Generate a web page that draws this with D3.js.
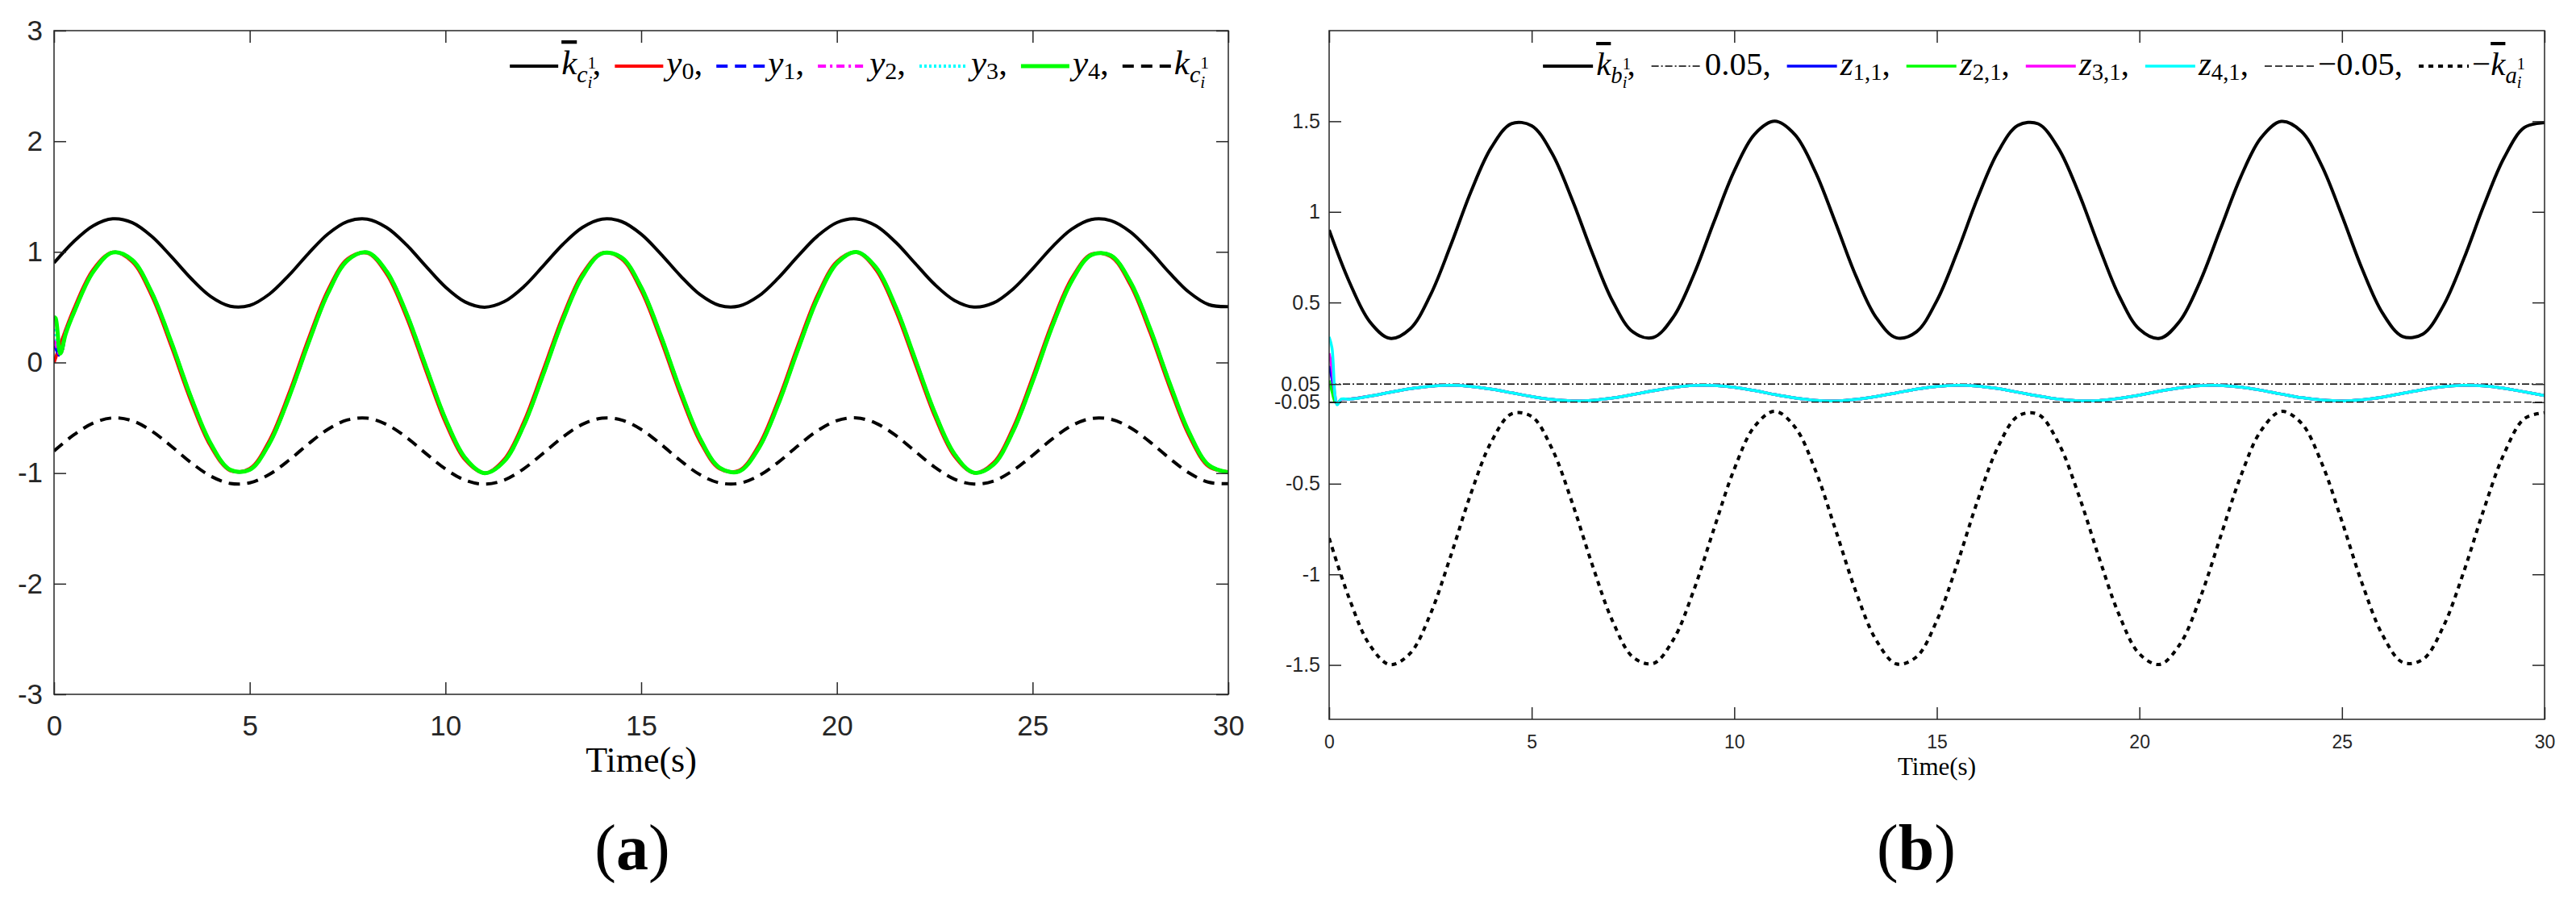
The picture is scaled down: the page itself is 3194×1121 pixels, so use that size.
<!DOCTYPE html>
<html>
<head>
<meta charset="utf-8">
<script src="https://cdn.jsdelivr.net/npm/d3@7"></script>
<style>
body { margin: 0; background: #fff; }
text { font-family: "Liberation Sans", Arial, sans-serif; fill: #262626; }
text.math { font-family: "Liberation Serif", "Times New Roman", serif; fill: #000; }
</style>
</head>
<body>
<svg id="fig" width="3194" height="1121"></svg>
<script>
// sample times (s)
const tGrid = [0,0.5,1,1.5,2,2.5,3,3.5,4,4.5,5,5.5,6,6.5,7,7.5,8,8.5,9,9.5,10,10.5,11,11.5,12,12.5,13,13.5,14,14.5,15,15.5,16,16.5,17,17.5,18,18.5,19,19.5,20,20.5,21,21.5,22,22.5,23,23.5,24,24.5,25,25.5,26,26.5,27,27.5,28,28.5,29,29.5,30];

// ---- panel (a) values ----
const kBarC = [.900,1.092,1.236,1.299,1.264,1.139,.956,.760,.597,.509,.516,.618,.788,.986,1.163,1.275,1.296,1.219,1.065,.870,.682,.548,.500,.550,.685,.874,1.068,1.221,1.296,1.274,1.160,.982,.785,.615,.516,.510,.600,.763,.960,1.142,1.265,1.298,1.235,1.088,.896,.705,.562,.501,.538,.664,.847,1.044,1.205,1.292,1.282,1.180,1.008,.810,.634,.523,.505];
const y0 = [0,.479,.841,.997,.909,.598,.141,-.351,-.757,-.978,-.959,-.706,-.279,.215,.657,.938,.989,.798,.412,-.075,-.544,-.880,-1.000,-.875,-.537,-.066,.420,.803,.991,.935,.650,.206,-.288,-.712,-.961,-.976,-.751,-.342,.150,.606,.913,.996,.837,.471,-.009,-.487,-.846,-.998,-.906,-.591,-.132,.360,.763,.980,.956,.699,.271,-.224,-.664,-.942,-.988];
const kC = [-.800,-.656,-.548,-.501,-.527,-.621,-.758,-.905,-1.027,-1.093,-1.088,-1.012,-.884,-.736,-.603,-.519,-.503,-.561,-.676,-.823,-.963,-1.064,-1.100,-1.063,-.961,-.820,-.674,-.559,-.503,-.520,-.605,-.738,-.886,-1.014,-1.088,-1.093,-1.025,-.903,-.755,-.618,-.526,-.501,-.549,-.659,-.803,-.946,-1.054,-1.099,-1.072,-.977,-.840,-.692,-.571,-.506,-.513,-.590,-.719,-.867,-.999,-1.083,-1.096];
// followers after the start-up (t = 0.5 ... 30), they sit on y0 with a small lag
const yFollow = [.444,.819,.994,.926,.630,.181,-.314,-.731,-.970,-.970,-.734,-.317,.176,.627,.924,.995,.822,.448,-.035,-.510,-.861,-1.000,-.894,-.571,-.106,.384,.779,.986,.949,.680,.245,-.250,-.684,-.950,-.985,-.777,-.380,.110,.574,.897,.999,.859,.506,.031,-.452,-.825,-.996,-.923,-.623,-.172,.323,.737,.972,.968,.728,.309,-.185,-.634,-.928,-.994];
const tStartA = [0,0.04,0.16,0.3];
const y1Start = [0.15,0.13,0.06,0.27];
const y2Start = [0.20,0.17,0.07,0.27];
const y3Start = [0.30,0.26,0.09,0.27];
const y4Start = [0.41,0.40,0.08,0.26];

// ---- panel (b) values ----
const kBarB = [.900,.613,.395,.302,.355,.541,.815,1.111,1.354,1.487,1.475,1.324,1.067,.771,.506,.337,.307,.421,.653,.945,1.226,1.428,1.500,1.425,1.222,.940,.648,.418,.305,.339,.510,.776,1.073,1.327,1.477,1.486,1.351,1.105,.810,.536,.352,.302,.398,.617,.905,1.192,1.408,1.499,1.444,1.255,.979,.684,.442,.312,.326,.481,.737,1.034,1.298,1.465,1.493];
const kBarA = [-.800,-1.135,-1.389,-1.498,-1.436,-1.219,-.899,-.554,-.270,-.115,-.129,-.306,-.605,-.951,-1.260,-1.457,-1.492,-1.359,-1.088,-.748,-.419,-.184,-.100,-.188,-.424,-.754,-1.094,-1.362,-1.494,-1.455,-1.255,-.944,-.598,-.302,-.127,-.117,-.274,-.561,-.905,-1.224,-1.439,-1.497,-1.386,-1.130,-.794,-.459,-.208,-.101,-.166,-.386,-.708,-1.052,-1.334,-1.486,-1.469,-1.289,-.990,-.643,-.335,-.141,-.108];
const zFollow = [-.034,-.017,.004,.024,.038,.043,.037,.022,.002,-.019,-.035,-.043,-.040,-.027,-.008,.013,.031,.042,.042,.032,.014,-.008,-.027,-.040,-.043,-.035,-.019,.001,.022,.037,.043,.039,.025,.005,-.016,-.033,-.042,-.041,-.029,-.011,.011,.029,.041,.042,.033,.016,-.005,-.025,-.038,-.043,-.037,-.022,-.001,.019,.035,.043,.040,.027,.007,-.014];
const tStartB = [0,0.07,0.15,0.2,0.3];
const z1Start = [0.15,0.08,-0.04,-0.06,-0.035];
const z2Start = [0.07,0.01,-0.05,-0.055,-0.035];
const z3Start = [0.22,0.14,-0.02,-0.06,-0.035];
const z4Start = [0.31,0.25,-0.02,-0.065,-0.033];
const bandT = [0, 30];
const bandUp = [0.05, 0.05];
const bandLow = [-0.05, -0.05];

// ticks
const xTicks = [0,5,10,15,20,25,30];
const yTicksA = [-3,-2,-1,0,1,2,3];
const yTicksB = [-1.5,-1,-0.5,-0.05,0.05,0.5,1,1.5];

const svg = d3.select("#fig");
const axisColor = "#262626";

const tA = tStartA.concat(tGrid.slice(1));
const tB = tStartB.concat(tGrid.slice(1));

function addMath(text, parts, size) {
    let cur = 0, prev = null;
    parts.forEach(p => {
        const sc = p.sc || 1, off = p.off || 0;
        const ts = text.append("tspan").text(p.s)
            .attr("font-size", size * sc)
            .attr("font-style", p.it ? "italic" : "normal")
            .attr("dy", (off - cur) * size);
        if (p.over) ts.attr("text-decoration", "overline");
        if (p.stack && prev) ts.attr("dx", -prev.node().getComputedTextLength());
        cur = off;
        prev = ts;
    });
}

function panel(cfg) {
    const x = d3.scaleLinear().domain([0, 30]).range([cfg.left, cfg.right]);
    const y = d3.scaleLinear().domain(cfg.yDomain).range([cfg.bottom, cfg.top]);
    const g = svg.append("g");

    g.append("clipPath").attr("id", cfg.id)
        .append("rect")
        .attr("x", cfg.left).attr("y", cfg.top)
        .attr("width", cfg.right - cfg.left).attr("height", cfg.bottom - cfg.top);

    const line = d3.line()
        .x(d => x(d[0]))
        .y(d => y(d[1]))
        .curve(d3.curveCatmullRom.alpha(0.5));

    const plot = g.append("g").attr("clip-path", `url(#${cfg.id})`);
    cfg.series.forEach(s => {
        plot.append("path")
            .datum(s.t.map((t, i) => [t, s.v[i]]))
            .attr("d", line)
            .attr("fill", "none")
            .attr("stroke", s.color)
            .attr("stroke-width", s.lw)
            .attr("stroke-dasharray", s.dash || null)
            .attr("stroke-linejoin", "round");
    });

    // box + inward ticks on all sides
    g.append("rect")
        .attr("x", cfg.left).attr("y", cfg.top)
        .attr("width", cfg.right - cfg.left).attr("height", cfg.bottom - cfg.top)
        .attr("fill", "none").attr("stroke", axisColor).attr("stroke-width", 1.5);

    const style = a => {
        a.select(".domain").remove();
        a.selectAll("line").attr("stroke", axisColor).attr("stroke-width", 1.5);
    };

    g.append("g").attr("transform", `translate(0,${cfg.bottom})`)
        .call(d3.axisBottom(x).tickValues(xTicks).tickSize(-15).tickPadding(cfg.xPad).tickFormat(d => String(d)))
        .call(style)
        .selectAll("text").attr("font-size", cfg.xFont).attr("fill", axisColor)
        .attr("font-family", '"Liberation Sans", Arial, sans-serif');
    g.append("g").attr("transform", `translate(0,${cfg.top})`)
        .call(d3.axisTop(x).tickValues(xTicks).tickSize(-15).tickFormat(""))
        .call(style);
    g.append("g").attr("transform", `translate(${cfg.left},0)`)
        .call(d3.axisLeft(y).tickValues(cfg.yTicks).tickSize(-15).tickPadding(cfg.yPad).tickFormat(d => String(d)))
        .call(style)
        .selectAll("text").attr("font-size", cfg.yFont).attr("fill", axisColor)
        .attr("font-family", '"Liberation Sans", Arial, sans-serif');
    g.append("g").attr("transform", `translate(${cfg.right},0)`)
        .call(d3.axisRight(y).tickValues(cfg.yTicks).tickSize(-15).tickFormat(""))
        .call(style);

    // x label
    g.append("text").attr("class", "math")
        .attr("x", (cfg.left + cfg.right) / 2).attr("y", cfg.xLabelY)
        .attr("text-anchor", "middle").attr("font-size", cfg.xLabelSize)
        .text("Time(s)");

    // caption
    const cap = g.append("text").attr("class", "math")
        .attr("x", cfg.capX).attr("y", 1078)
        .attr("text-anchor", "middle").attr("font-size", 80);
    cap.append("tspan").text("(");
    cap.append("tspan").attr("font-weight", "bold").text(cfg.cap);
    cap.append("tspan").text(")");

    // legend, laid out left to right then pushed against the right edge
    const lg = g.append("g");
    let lx = 0;
    cfg.legend.forEach((it, i) => {
        const s = cfg.series[i];
        lg.append("line")
            .attr("x1", lx).attr("x2", lx + cfg.legLen).attr("y1", 0).attr("y2", 0)
            .attr("stroke", s.color).attr("stroke-width", s.legLw || s.lw)
            .attr("stroke-dasharray", s.dash || null);
        lx += cfg.legLen + 4;
        const t = lg.append("text").attr("class", "math").attr("x", lx).attr("y", cfg.legBase);
        addMath(t, it, cfg.legSize);
        const bb = t.node().getBBox();
        lx = bb.x + bb.width + cfg.legGap;
    });
    lg.attr("transform", `translate(${cfg.right - 24 - (lx - cfg.legGap)},${cfg.legY})`);
}

panel({
    id: "clipA", left: 67, right: 1523, top: 38, bottom: 861,
    yDomain: [-3, 3], yTicks: yTicksA,
    xPad: 26, yPad: 14, xFont: 35, yFont: 35,
    xLabelY: 957, xLabelSize: 44, capX: 784, cap: "a",
    legLen: 60, legGap: 17, legSize: 43, legBase: 10, legY: 82,
    series: [
        {t: tGrid, v: kBarC, color: "#000000", lw: 4},
        {t: tGrid, v: y0, color: "#ff0000", lw: 4},
        {t: tA, v: y1Start.concat(yFollow), color: "#0000ff", lw: 4, dash: "14,9"},
        {t: tA, v: y2Start.concat(yFollow), color: "#ff00ff", lw: 4, dash: "10,5,3,5"},
        {t: tA, v: y3Start.concat(yFollow), color: "#00ffff", lw: 4, dash: "3,3"},
        {t: tA, v: y4Start.concat(yFollow), color: "#00ff00", lw: 5},
        {t: tGrid, v: kC, color: "#000000", lw: 4, dash: "14,9"}
    ],
    legend: [
        [{s: "k", it: true, over: true}, {s: "c", it: true, sc: 0.7, off: 0.24}, {s: "1", sc: 0.5, off: -0.17}, {s: "i", it: true, sc: 0.5, off: 0.4, stack: true}, {s: ",", off: 0}],
        [{s: "y", it: true}, {s: "0", sc: 0.7, off: 0.15}, {s: ",", off: 0}],
        [{s: "y", it: true}, {s: "1", sc: 0.7, off: 0.15}, {s: ",", off: 0}],
        [{s: "y", it: true}, {s: "2", sc: 0.7, off: 0.15}, {s: ",", off: 0}],
        [{s: "y", it: true}, {s: "3", sc: 0.7, off: 0.15}, {s: ",", off: 0}],
        [{s: "y", it: true}, {s: "4", sc: 0.7, off: 0.15}, {s: ",", off: 0}],
        [{s: "k", it: true}, {s: "c", it: true, sc: 0.7, off: 0.24}, {s: "1", sc: 0.5, off: -0.17}, {s: "i", it: true, sc: 0.5, off: 0.4, stack: true}]
    ]
});

panel({
    id: "clipB", left: 1648, right: 3155, top: 38, bottom: 892,
    yDomain: [-1.8, 2.0], yTicks: yTicksB,
    xPad: 20, yPad: 11, xFont: 23, yFont: 25,
    xLabelY: 961, xLabelSize: 31, capX: 2376, cap: "b",
    legLen: 62, legGap: 20, legSize: 41, legBase: 11, legY: 82,
    series: [
        {t: tGrid, v: kBarB, color: "#000000", lw: 4},
        {t: bandT, v: bandUp, color: "#000000", lw: 1.3, dash: "9,3,2,3"},
        {t: tB, v: z1Start.concat(zFollow), color: "#0000ff", lw: 3.5},
        {t: tB, v: z2Start.concat(zFollow), color: "#00ff00", lw: 3.5},
        {t: tB, v: z3Start.concat(zFollow), color: "#ff00ff", lw: 3.5},
        {t: tB, v: z4Start.concat(zFollow), color: "#00ffff", lw: 3.5},
        {t: bandT, v: bandLow, color: "#000000", lw: 1.3, dash: "9,4"},
        {t: tGrid, v: kBarA, color: "#000000", lw: 4, dash: "6,6"}
    ],
    legend: [
        [{s: "k", it: true, over: true}, {s: "b", it: true, sc: 0.7, off: 0.24}, {s: "1", sc: 0.5, off: -0.17}, {s: "i", it: true, sc: 0.5, off: 0.4, stack: true}, {s: ",", off: 0}],
        [{s: "0.05,"}],
        [{s: "z", it: true}, {s: "1,1", sc: 0.7, off: 0.15}, {s: ",", off: 0}],
        [{s: "z", it: true}, {s: "2,1", sc: 0.7, off: 0.15}, {s: ",", off: 0}],
        [{s: "z", it: true}, {s: "3,1", sc: 0.7, off: 0.15}, {s: ",", off: 0}],
        [{s: "z", it: true}, {s: "4,1", sc: 0.7, off: 0.15}, {s: ",", off: 0}],
        [{s: "\u22120.05,"}],
        [{s: "\u2212"}, {s: "k", it: true, over: true}, {s: "a", it: true, sc: 0.7, off: 0.24}, {s: "1", sc: 0.5, off: -0.17}, {s: "i", it: true, sc: 0.5, off: 0.4, stack: true}]
    ]
});
</script>
</body>
</html>
